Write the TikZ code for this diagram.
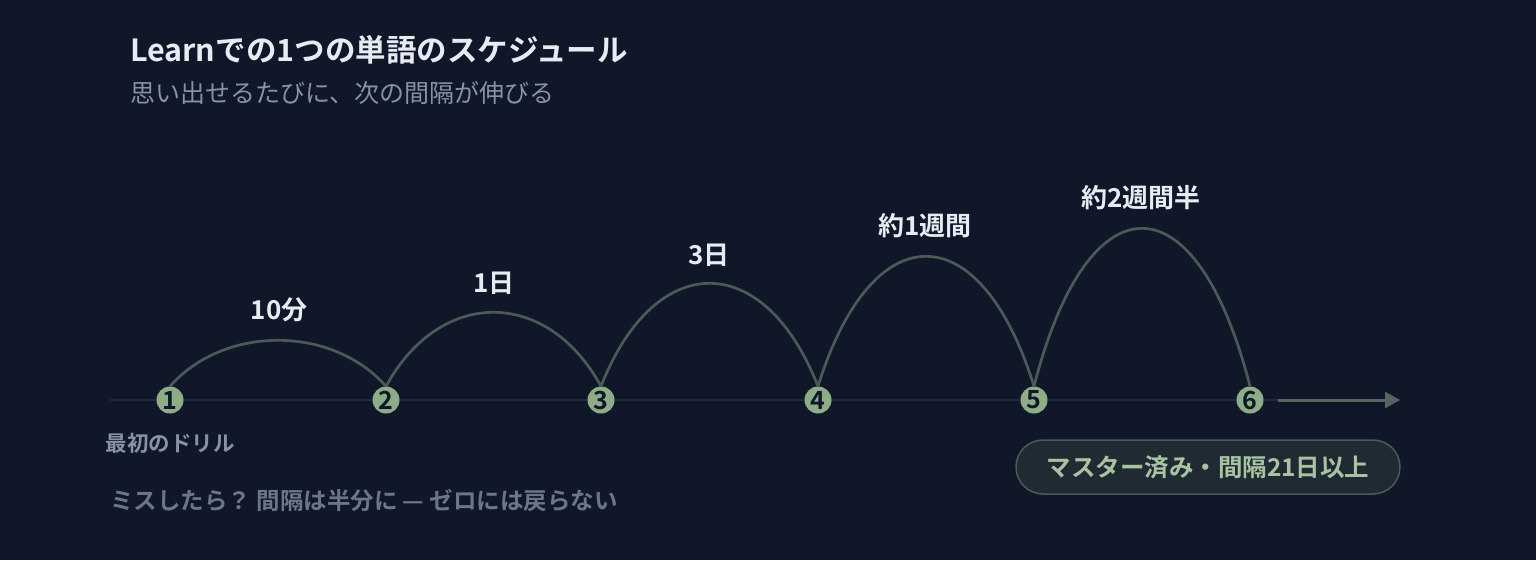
\documentclass[tikz,border=0pt]{standalone}
\usepackage{fontspec}
\setmainfont{Noto Sans CJK JP}[BoldFont={Noto Sans CJK JP Bold}]
\usetikzlibrary{arrows.meta,positioning}
\definecolor{bgnavy}{HTML}{0F1729}
\definecolor{titlewhite}{HTML}{E8ECF2}
\definecolor{subgray}{HTML}{8692A5}
\definecolor{sage}{HTML}{8DAD88}
\definecolor{arcgray}{HTML}{4B5A56}
\definecolor{arrowgray}{HTML}{56655F}
\definecolor{axisline}{HTML}{1F2A3B}
\definecolor{badgefill}{HTML}{1F2A33}
\definecolor{badgetext}{HTML}{A8C3A2}
\definecolor{notegray}{HTML}{6B7788}

\begin{document}
\begin{tikzpicture}[x=1pt,y=-1pt,
    stepdot/.style={circle, fill=sage, inner sep=0pt, minimum size=27pt,
      text=bgnavy, font=\bfseries\fontsize{25}{25}\selectfont},
    gaplabel/.style={inner sep=0pt, text=titlewhite,
      font=\bfseries\fontsize{26}{26}\selectfont},
    hop/.style={arcgray, line width=2.7pt},
    badge/.style={draw=arcgray, line width=1.5pt, fill=badgefill,
      rounded corners=27pt, minimum width=384pt, minimum height=54pt,
      text=badgetext, font=\bfseries\fontsize{24.5}{24.5}\selectfont}]
    %%Nền
    \fill[bgnavy] (0,0) rectangle (1536,560);
    \useasboundingbox (0,0) rectangle (1536,560);
    %%Tiêu đề
    \node[anchor=west, inner sep=0pt, text=titlewhite,
      font=\bfseries\fontsize{30.5}{30.5}\selectfont] (title) at (130,50)
      {Learnでの1つの単語のスケジュール};
    \node[anchor=west, inner sep=0pt, text=subgray,
      font=\fontsize{25}{25}\selectfont] (subtitle) at (130,93)
      {思い出せるたびに、次の間隔が伸びる};
    %%Trục thời gian
    \draw[axisline, line width=2pt] (110,400) -- (1400,400);
    \foreach \i/\x in {1/170,2/386,3/601,4/818,5/1034,6/1250}
      \node[stepdot] (s\i) at (\x,400) {\i};
    %%Các bước nhảy
    \foreach \a/\b/\h in {1/2/46,2/3/74,3/4/103,4/5/130,5/6/158}
      \draw[hop] (s\a.north) .. controls +(54,-1.333*\h) and +(-54,-1.333*\h) .. (s\b.north);
    \node[gaplabel] (g1) at (279,310) {10分};
    \node[gaplabel] (g2) at (494,283) {1日};
    \node[gaplabel] (g3) at (709,255) {3日};
    \node[gaplabel] (g4) at (925,226) {約1週間};
    \node[gaplabel] (g5) at (1141,198) {約2週間半};
    %%Mũi tên
    \coordinate (arrowtip) at (1400,400);
    \draw[arrowgray, line width=3pt, -{Triangle[length=15pt,width=16pt]}]
      ([xshift=14pt]s6.east) -- (arrowtip);
    %%Chú thích
    \node[inner sep=0pt, text=subgray, font=\bfseries\fontsize{21.5}{21.5}\selectfont]
      (first) at (170,443) {最初のドリル};
    \node[badge] (mastered) at (1208,467) {マスター済み・間隔21日以上};
    \node[anchor=west, inner sep=0pt, text=notegray,
      font=\bfseries\fontsize{23.5}{23.5}\selectfont] (note) at (110,500)
      {ミスしたら？ 間隔は半分に — ゼロには戻らない};
\end{tikzpicture}
\end{document}
